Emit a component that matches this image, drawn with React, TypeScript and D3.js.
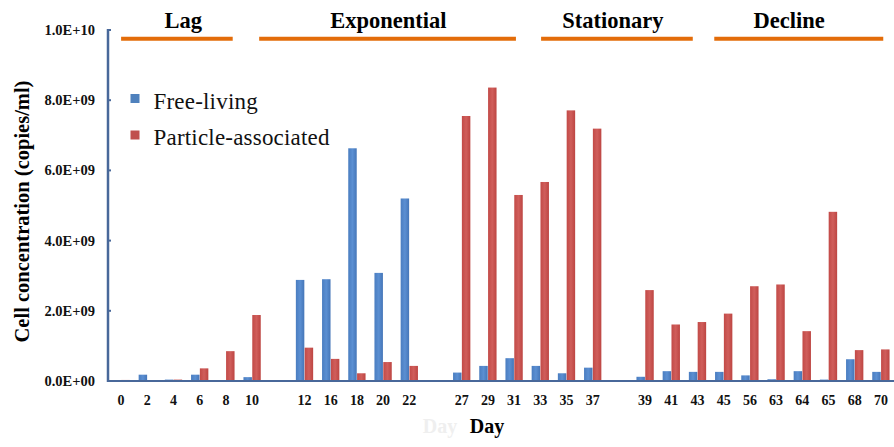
import React from "react";
import * as d3 from "d3";

// Categories (empty strings mark visual gaps between groups)
const categories = ["0","2","4","6","8","10","","12","16","18","20","22","","27","29","31","33","35","37","","39","41","43","45","56","63","64","65","68","70"];
// values in units of 1e9 copies/ml (null for gap slots)
const freeLiving = [0.01,0.18,0.04,0.18,0.01,0.11,null,2.88,2.90,6.63,3.08,5.20,null,0.24,0.43,0.65,0.43,0.22,0.38,null,0.12,0.28,0.26,0.26,0.16,0.05,0.28,0.04,0.62,0.26];
const particleAssociated = [0.03,0.02,0.04,0.36,0.85,1.88,null,0.95,0.63,0.22,0.54,0.43,null,7.55,8.36,5.30,5.67,7.71,7.19,null,2.59,1.61,1.68,1.92,2.70,2.75,1.42,4.82,0.88,0.90];
const yTicks = [0, 2, 4, 6, 8, 10];
const yTickLabels = ["0.0E+00","2.0E+09","4.0E+09","6.0E+09","8.0E+09","1.0E+10"];
const phaseNames = ["Lag","Exponential","Stationary","Decline"];
const phaseStart = [0.0, 5.27, 16.03, 22.64]; // slot index units
const phaseEnd = [4.26, 15.07, 21.82, 29.09];
const phaseLabelAt = [2.37, 10.2, 18.77, 25.5];
const seriesNames = ["Free-living","Particle-associated"];
const seriesColors = ["#4f81bd","#c0504d"];

export default function App() {
  const W = 894, H = 447;
  const left = 108, right = 894, top = 30, bottom = 381;
  const keys = categories.map((c, i) => `${i}:${c}`);
  const x = d3.scaleBand<string>().domain(keys).range([left, right]).paddingInner(0.34).paddingOuter(0.17);
  const sub = d3.scaleBand<string>().domain(["f","p"]).range([0, x.bandwidth()]).paddingInner(0.04);
  const y = d3.scaleLinear().domain([0, 10]).range([bottom, top]);
  const xi = d3.scaleLinear().domain([-0.5, categories.length - 0.5]).range([left, right]);
  const axisColor = "#48689a";
  const serif: React.CSSProperties = { fontFamily: "Liberation Serif, DejaVu Serif, serif" };

  return (
    <svg width={W} height={H} style={{ position: "absolute", left: 0, top: 0, background: "#fff" }}>
      <defs>
        <linearGradient id="gb" x1="0" y1="0" x2="1" y2="0">
          <stop offset="0" stopColor="#4a7dc0" />
          <stop offset="0.5" stopColor="#5b8fd2" />
          <stop offset="1" stopColor="#4576b8" />
        </linearGradient>
        <linearGradient id="gr" x1="0" y1="0" x2="1" y2="0">
          <stop offset="0" stopColor="#c24a47" />
          <stop offset="0.5" stopColor="#d05e5b" />
          <stop offset="1" stopColor="#bd4542" />
        </linearGradient>
      </defs>
      <rect width={W} height={H} fill="#fff" />

      {/* phases */}
      {phaseNames.map((p, i) => (
        <g key={p}>
          <line x1={xi(phaseStart[i])} x2={xi(phaseEnd[i])} y1={38.7} y2={38.7} stroke="#e36c09" strokeWidth={4} />
          <text x={xi(phaseLabelAt[i])} y={28} textAnchor="middle" style={serif} fontWeight="bold" fontSize={22.5} fill="#000">{p}</text>
        </g>
      ))}

      {/* bars */}
      {categories.map((c, i) => {
        if (c === "") return null;
        const x0 = x(keys[i])!;
        const f = freeLiving[i]!, p = particleAssociated[i]!;
        return (
          <g key={keys[i]}>
            <rect x={x0 + sub("f")!} width={sub.bandwidth()} y={y(f)} height={bottom - y(f)} fill="url(#gb)" />
            <rect x={x0 + sub("p")!} width={sub.bandwidth()} y={y(p)} height={bottom - y(p)} fill="url(#gr)" />
          </g>
        );
      })}

      {/* axes */}
      <line x1={left} x2={left} y1={top - 1} y2={bottom + 1} stroke={axisColor} strokeWidth={2.5} />
      <line x1={left} x2={right} y1={bottom} y2={bottom} stroke={axisColor} strokeWidth={2} />
      {yTicks.map((t, i) => (
        <g key={t}>
          <line x1={left} x2={left + 3} y1={y(t)} y2={y(t)} stroke={axisColor} strokeWidth={2} />
          <text x={95} y={y(t)} dy="0.35em" textAnchor="end" style={serif} fontWeight="bold" fontSize={14.5} fill="#111">{yTickLabels[i]}</text>
        </g>
      ))}
      {categories.map((c, i) => c === "" ? null : (
        <text key={"t" + i} x={x(keys[i])! + x.bandwidth() / 2} y={404.5} textAnchor="middle" style={serif} fontWeight="bold" fontSize={14} fill="#111">{c}</text>
      ))}

      {/* axis titles */}
      <text x={440} y={433} textAnchor="middle" style={serif} fontWeight="bold" fontSize={20} fill="#efefef">Day</text>
      <text x={487} y={433} textAnchor="middle" style={serif} fontWeight="bold" fontSize={20} fill="#000">Day</text>
      <text transform={`translate(28.5,211.5) rotate(-90)`} textAnchor="middle" style={serif} fontWeight="bold" fontSize={20.5} fill="#000">Cell concentration (copies/ml)</text>

      {/* legend */}
      {seriesNames.map((s, i) => (
        <g key={s} transform={`translate(130.5,${98.5 + i * 36.5})`}>
          <rect x={0} y={-4.5} width={9} height={9} fill={seriesColors[i]} />
          <text x={23} y={10} style={serif} fontSize={23} letterSpacing={0.2} fill="#111">{s}</text>
        </g>
      ))}
    </svg>
  );
}
